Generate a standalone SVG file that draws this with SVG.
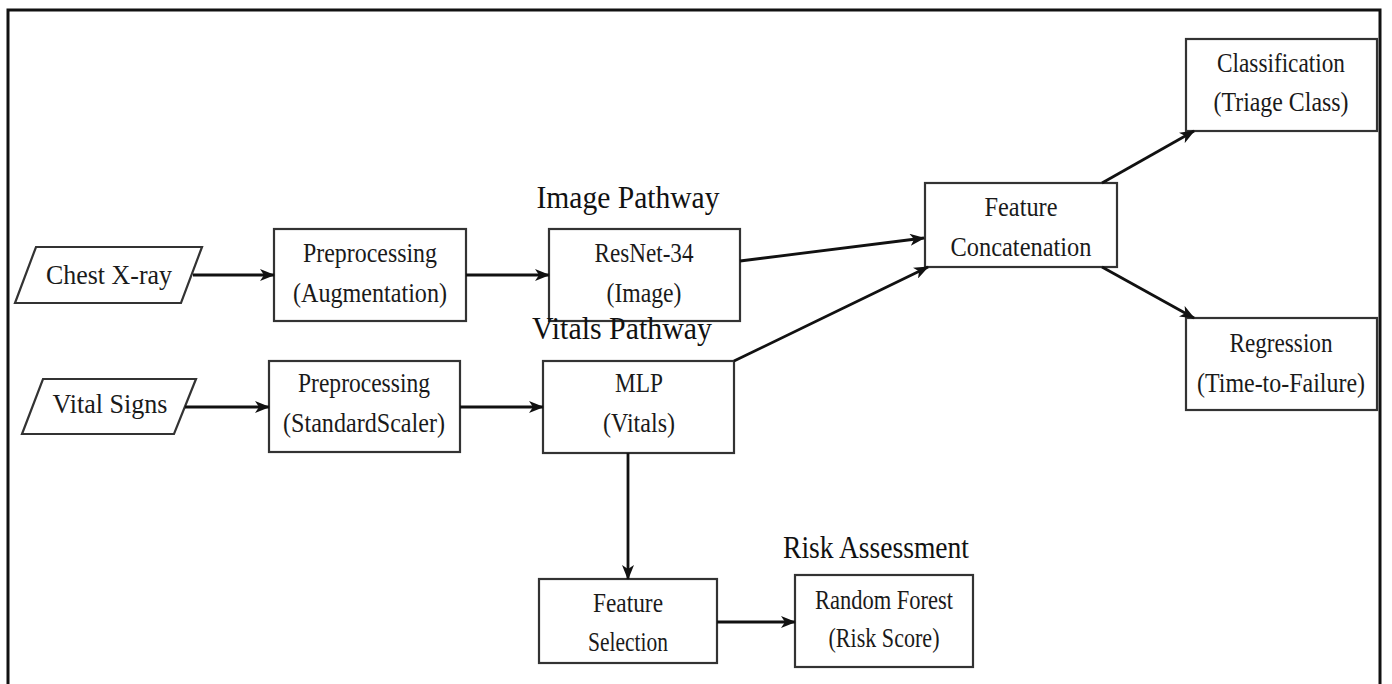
<svg xmlns="http://www.w3.org/2000/svg" width="1392" height="684" viewBox="0 0 1392 684">
<style>
.box{fill:#fff;stroke:#333;stroke-width:2.2}
.t{font-family:"Liberation Serif",serif;font-size:27px;fill:#1a1a1a;text-anchor:middle;dominant-baseline:central;lengthAdjust:spacingAndGlyphs}
.lbl{font-family:"Liberation Serif",serif;font-size:32px;fill:#111;text-anchor:middle;dominant-baseline:central}
.c{stroke:#111;stroke-width:2.8;fill:none;marker-end:url(#ah)}
</style>
<defs>
<marker id="ah" viewBox="0 0 15 12" refX="14" refY="6" markerWidth="15" markerHeight="12" markerUnits="userSpaceOnUse" orient="auto">
<path d="M0,0 L15,6 L0,12 L4,6 Z" fill="#111"/>
</marker>
</defs>
<rect width="1392" height="684" fill="#fff"/>
<rect x="8" y="10" width="1372" height="690" fill="none" stroke="#111" stroke-width="3"/>
<g id="chest-xray"><polygon class="box" points="36,247 202,247 181,303 15,303"/><text class="t" x="109" y="275" textLength="126" lengthAdjust="spacingAndGlyphs">Chest X-ray</text></g>
<g id="vital-signs"><polygon class="box" points="43,379 196,379 174,434 22,434"/><text class="t" x="110" y="404" textLength="115" lengthAdjust="spacingAndGlyphs">Vital Signs</text></g>
<g id="prep-aug"><rect class="box" x="274" y="229" width="192" height="92"/><text class="t" x="370" y="253" textLength="134" lengthAdjust="spacingAndGlyphs">Preprocessing</text><text class="t" x="370" y="293" textLength="154" lengthAdjust="spacingAndGlyphs">(Augmentation)</text></g>
<g id="prep-std"><rect class="box" x="269" y="361" width="191" height="91"/><text class="t" x="364" y="383" textLength="132" lengthAdjust="spacingAndGlyphs">Preprocessing</text><text class="t" x="364" y="423" textLength="162" lengthAdjust="spacingAndGlyphs">(StandardScaler)</text></g>
<g id="image-pathway-label"><text class="lbl" x="628" y="197" textLength="183" lengthAdjust="spacingAndGlyphs">Image Pathway</text></g>
<g id="resnet"><rect class="box" x="549" y="229" width="191" height="92"/><text class="t" x="644" y="253" textLength="99" lengthAdjust="spacingAndGlyphs">ResNet-34</text><text class="t" x="644" y="293" textLength="75" lengthAdjust="spacingAndGlyphs">(Image)</text></g>
<g id="vitals-pathway-label"><text class="lbl" x="622" y="328" textLength="180" lengthAdjust="spacingAndGlyphs">Vitals Pathway</text></g>
<g id="mlp"><rect class="box" x="543" y="361" width="191" height="92"/><text class="t" x="639" y="383" textLength="48" lengthAdjust="spacingAndGlyphs">MLP</text><text class="t" x="639" y="423" textLength="72" lengthAdjust="spacingAndGlyphs">(Vitals)</text></g>
<g id="feature-concat"><rect class="box" x="925" y="183" width="192" height="84"/><text class="t" x="1021" y="207" textLength="73" lengthAdjust="spacingAndGlyphs">Feature</text><text class="t" x="1021" y="247" textLength="141" lengthAdjust="spacingAndGlyphs">Concatenation</text></g>
<g id="classification"><rect class="box" x="1186" y="39" width="191" height="92"/><text class="t" x="1281" y="63" textLength="128" lengthAdjust="spacingAndGlyphs">Classification</text><text class="t" x="1281" y="102" textLength="135" lengthAdjust="spacingAndGlyphs">(Triage Class)</text></g>
<g id="regression"><rect class="box" x="1186" y="318" width="191" height="92"/><text class="t" x="1281" y="343" textLength="103" lengthAdjust="spacingAndGlyphs">Regression</text><text class="t" x="1281" y="383" textLength="168" lengthAdjust="spacingAndGlyphs">(Time-to-Failure)</text></g>
<g id="feature-selection"><rect class="box" x="539" y="579" width="178" height="84"/><text class="t" x="628" y="603" textLength="70" lengthAdjust="spacingAndGlyphs">Feature</text><text class="t" x="628" y="642" textLength="80" lengthAdjust="spacingAndGlyphs">Selection</text></g>
<g id="risk-label"><text class="lbl" x="876" y="547" textLength="186" lengthAdjust="spacingAndGlyphs">Risk Assessment</text></g>
<g id="random-forest"><rect class="box" x="795" y="575" width="178" height="92"/><text class="t" x="884" y="600" textLength="138" lengthAdjust="spacingAndGlyphs">Random Forest</text><text class="t" x="884" y="638" textLength="111" lengthAdjust="spacingAndGlyphs">(Risk Score)</text></g>
<g id="connectors">
<line class="c" x1="193" y1="275" x2="274" y2="275"/>
<line class="c" x1="185" y1="407" x2="269" y2="407"/>
<line class="c" x1="466" y1="275" x2="549" y2="275"/>
<line class="c" x1="460" y1="407" x2="543" y2="407"/>
<line class="c" x1="740" y1="261" x2="924" y2="238"/>
<line class="c" x1="734" y1="361" x2="928" y2="267"/>
<line class="c" x1="1102" y1="183" x2="1194" y2="131"/>
<line class="c" x1="1102" y1="267" x2="1194" y2="318"/>
<line class="c" x1="628" y1="453" x2="628" y2="579"/>
<line class="c" x1="717" y1="622" x2="795" y2="622"/>
</g>
</svg>
